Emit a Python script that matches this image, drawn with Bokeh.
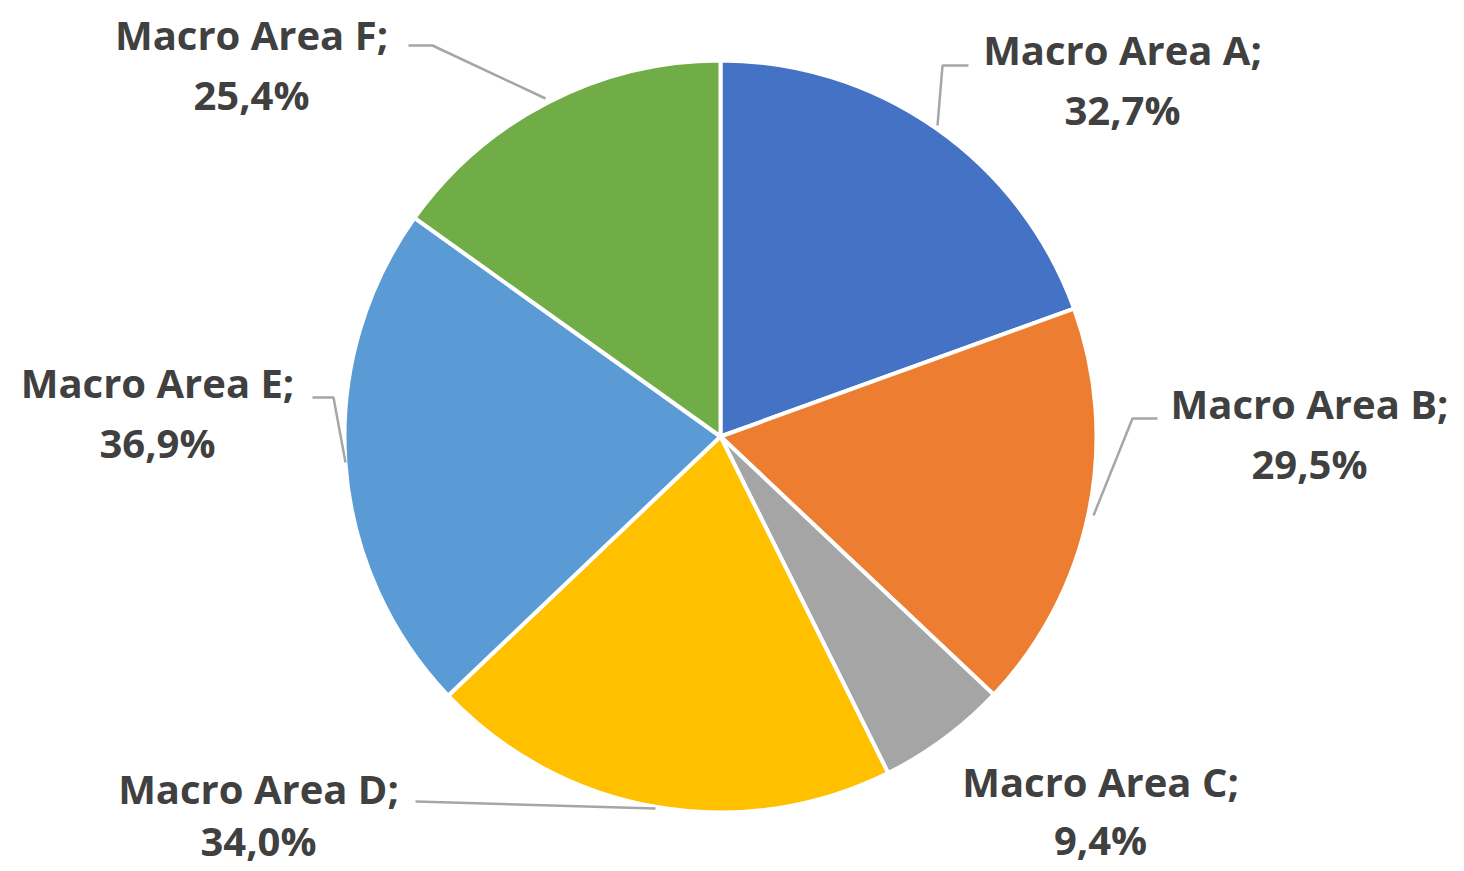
import math
from bokeh.plotting import figure
from bokeh.models import Range1d, ColumnDataSource
from bokeh.core.properties import value
from bokeh.embed import file_html
from bokeh.resources import INLINE

# ---- data ----
categories = ["Macro Area A", "Macro Area B", "Macro Area C",
              "Macro Area D", "Macro Area E", "Macro Area F"]
values = [32.7, 29.5, 9.4, 34.0, 36.9, 25.4]
colors = ["#4472C4", "#ED7D31", "#A5A5A5", "#FFC000", "#5B9BD5", "#70AD47"]

# ---- layout (image pixel coords, y downward) ----
W, H = 1464, 871
cx, cy, r = 720, 436, 376
# label centers (line 1) and gap to line 2
label_xy = [(1122, 49), (1309, 403), (1100, 781), (258, 788), (157, 382), (251, 34)]
line_gaps = [60, 60, 58, 52, 60, 60]
# leader lines (image coords)
leaders = {
    0: [(968, 65), (942, 65), (937, 125)],
    1: [(1157, 418), (1132, 418), (1093, 515)],
    3: [(415, 801), (655, 808)],
    4: [(312, 397), (333, 397), (345, 462)],
    5: [(408, 45), (432, 45), (545, 98)],
}

def fy(y):
    return H - y

total = sum(values)
starts, ends = [], []
cum = 0.0
for v in values:
    starts.append(math.pi / 2 - 2 * math.pi * cum / total)
    cum += v
    ends.append(math.pi / 2 - 2 * math.pi * cum / total)

p = figure(width=W, height=H, output_backend="svg", toolbar_location=None,
           x_range=Range1d(0, W), y_range=Range1d(0, H),
           min_border=0)
p.axis.visible = False
p.grid.visible = False
p.outline_line_color = None
p.background_fill_color = "white"
p.border_fill_color = "white"

src = ColumnDataSource(dict(start=starts, end=ends, color=colors,
                            x=[cx] * len(values), y=[fy(cy)] * len(values)))
p.wedge(x="x", y="y", radius=r, start_angle="start", end_angle="end",
        direction="clock", fill_color="color", line_color="white",
        line_width=4, source=src)

xs, ys = [], []
for k, pts in leaders.items():
    xs.append([pt[0] for pt in pts])
    ys.append([fy(pt[1]) for pt in pts])
p.multi_line(xs, ys, line_color="#A6A6A6", line_width=2.5)

line1 = [c + ";" for c in categories]
line2 = [f"{v:.1f}".replace(".", ",") + "%" for v in values]
tx = [xy[0] for xy in label_xy]
ty1 = [fy(xy[1]) for xy in label_xy]
ty2 = [fy(xy[1] + g) for xy, g in zip(label_xy, line_gaps)]
for texts, tys in ((line1, ty1), (line2, ty2)):
    p.text(x=tx, y=tys, text=texts, text_align="center", text_baseline="middle",
           text_font=value("Open Sans"), text_font_style="bold",
           text_font_size="40px", text_color="#404040")

open("out.html", "w").write(file_html(p, INLINE))
